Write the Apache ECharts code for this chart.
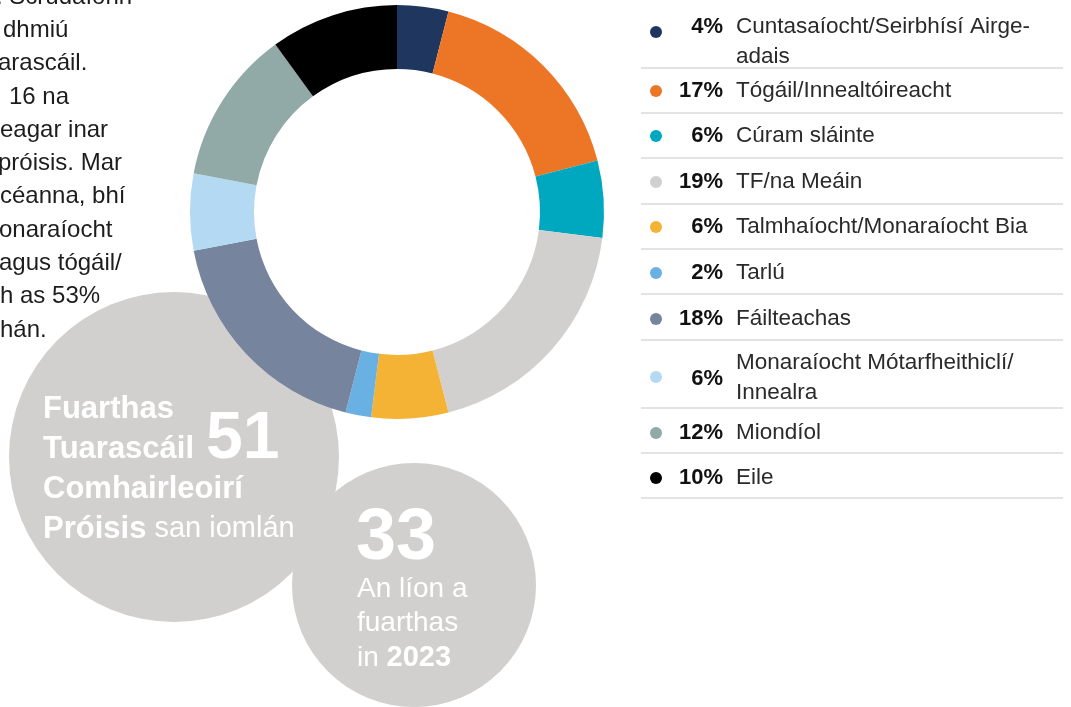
<!DOCTYPE html>
<html>
<head>
<meta charset="utf-8">
<script src="https://cdn.jsdelivr.net/npm/echarts@6/dist/echarts.min.js"></script>
<style>
  html, body { margin: 0; padding: 0; background: #fff; }
  #main { width: 1071px; height: 707px; }
</style>
</head>
<body>
<div id="main"></div>
<script>
// earnáil - sciar na dtuarascálacha (%)
var sectors = [
  'Cuntasaíocht/Seirbhísí Airge-\nadais',
  'Tógáil/Innealtóireacht',
  'Cúram sláinte',
  'TF/na Meáin',
  'Talmhaíocht/Monaraíocht Bia',
  'Tarlú',
  'Fáilteachas',
  'Monaraíocht Mótarfheithiclí/\nInnealra',
  'Miondíol',
  'Eile'
];
var shares = [4, 17, 6, 19, 6, 2, 18, 6, 12, 10];

// na ciorcail
var totalReports = 51;
var reports2023 = 33;
var reportYear = 2023;

// téacs an ailt (gearrtha ar chlé)
var bodyLines = [
  '. Scrúdaíonn', 'dhmiú', 'arascáil.', '16 na', 'eagar inar',
  'próisis. Mar', 'céanna, bhí', 'onaraíocht', 'agus tógáil/', 'h as 53%', 'hán.'
];

var palette = ['#1f365f', '#ec7625', '#00a8bf', '#d1d0ce', '#f4b334',
               '#69b1e2', '#77849e', '#b3d9f3', '#91aaa7', '#000000'];
var FONT = '"Liberation Sans", Arial, sans-serif';
var white = '#ffffff';

var chart = echarts.init(document.getElementById('main'), null, {renderer: 'canvas'});

var pieData = sectors.map(function(n, i){
  return {name: n, value: shares[i], itemStyle: {color: palette[i]}};
});

var graphics = [];

//ciorcail liath
graphics.push({type: 'circle', z: 0, silent: true, shape: {cx: 174, cy: 457, r: 165}, style: {fill: '#d1d0ce'}});
graphics.push({type: 'circle', z: 0, silent: true, shape: {cx: 414, cy: 585, r: 122}, style: {fill: '#d1d0ce'}});

//alt
var bodyX = [-4, 3, -2, 9, 0, -2, 0, -1, -1, 0, 0];
bodyLines.forEach(function(t, i){
  graphics.push({
    type: 'text', z: 5, silent: true,
    x: bodyX[i], y: -3 + i * 33.3,
    style: {text: t, font: '24px ' + FONT, fill: '#1d1d1d', verticalAlign: 'middle'}
  });
});

//téacs sa chiorcal mór
[['Fuarthas', 409], ['Tuarascáil', 449], ['Comhairleoirí', 489]].forEach(function(r){
  graphics.push({
    type: 'text', z: 10, silent: true, x: 43, y: r[1],
    style: {text: r[0], font: 'bold 31px ' + FONT, fill: white, verticalAlign: 'middle'}
  });
});
graphics.push({
  type: 'text', z: 10, silent: true, x: 43, y: 529,
  style: {
    text: '{b|Próisis}{r| san iomlán}', verticalAlign: 'middle',
    rich: {
      b: {font: 'bold 31px ' + FONT, fill: white},
      r: {font: '29px ' + FONT, fill: white}
    }
  }
});
graphics.push({
  type: 'text', z: 10, silent: true, x: 206, y: 440,
  style: {text: String(totalReports), font: 'bold 66px ' + FONT, fill: white, verticalAlign: 'middle'}
});

//téacs sa chiorcal beag
graphics.push({
  type: 'text', z: 10, silent: true, x: 356, y: 539,
  style: {text: String(reports2023), font: 'bold 72px ' + FONT, fill: white, verticalAlign: 'middle'}
});
[['An líon a', 589], ['fuarthas', 623]].forEach(function(r){
  graphics.push({
    type: 'text', z: 10, silent: true, x: 357, y: r[1],
    style: {text: r[0], font: '28px ' + FONT, fill: white, verticalAlign: 'middle'}
  });
});
graphics.push({
  type: 'text', z: 10, silent: true, x: 357, y: 658,
  style: {
    text: '{r|in }{b|' + reportYear + '}', verticalAlign: 'middle',
    rich: {
      b: {font: 'bold 29px ' + FONT, fill: white},
      r: {font: '28px ' + FONT, fill: white}
    }
  }
});

//eochair: línte scartha, poncanna, céatadáin, ainmneacha
var sepY = [68, 113, 158, 204, 249, 294, 340, 408, 453, 498];
var pctY = [27, 91, 136, 182, 227, 273, 319, 379, 433, 478];
var dotY = [32, 91, 136, 182, 227, 273, 319, 377, 433, 478];
var nameY = [27, 91, 136, 182, 227, 273, 319, 363, 433, 478];

sepY.forEach(function(y){
  graphics.push({
    type: 'line', z: 1, silent: true,
    shape: {x1: 641, y1: y, x2: 1063, y2: y},
    style: {stroke: '#dadada', lineWidth: 1.5}
  });
});
sectors.forEach(function(name, i){
  graphics.push({
    type: 'circle', z: 5, silent: true,
    shape: {cx: 656, cy: dotY[i], r: 6},
    style: {fill: palette[i]}
  });
  graphics.push({
    type: 'text', z: 5, silent: true, x: 723, y: pctY[i],
    style: {text: shares[i] + '%', font: 'bold 22px ' + FONT, fill: '#111111',
            align: 'right', verticalAlign: 'middle'}
  });
  graphics.push({
    type: 'text', z: 5, silent: true, x: 736, y: nameY[i] - 15,
    style: {text: name, font: '22.5px ' + FONT, fill: '#2a2a2a',
            lineHeight: 30, align: 'left', verticalAlign: 'top'}
  });
});

var option = {
  animation: false,
  backgroundColor: '#ffffff',
  graphic: graphics,
  series: [{
    type: 'pie',
    center: [397, 212],
    radius: [143, 207],
    startAngle: 90,
    clockwise: true,
    silent: true,
    label: {show: false},
    labelLine: {show: false},
    itemStyle: {borderWidth: 0},
    emphasis: {disabled: true},
    data: pieData
  }]
};

chart.setOption(option);
</script>
</body>
</html>
